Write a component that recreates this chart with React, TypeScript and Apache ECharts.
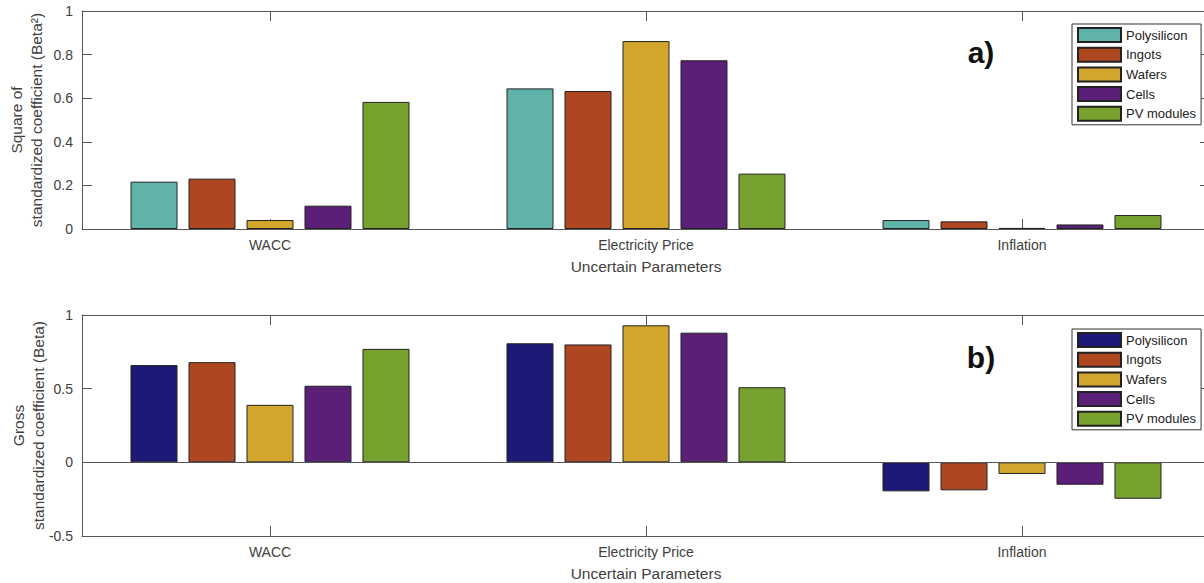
import React, { useEffect, useRef } from 'react';
import * as echarts from 'echarts';

const categories = ['WACC', 'Electricity Price', 'Inflation'];
const seriesNames = ['Polysilicon', 'Ingots', 'Wafers', 'Cells', 'PV modules'];

// a) Square of standardized coefficient (Beta^2)
const sqPolysilicon = [0.217, 0.645, 0.041];
const sqIngots = [0.231, 0.633, 0.035];
const sqWafers = [0.041, 0.862, 0.005];
const sqCells = [0.107, 0.774, 0.021];
const sqModules = [0.583, 0.254, 0.064];

// b) Gross standardized coefficient (Beta)
const grPolysilicon = [0.66, 0.808, -0.197];
const grIngots = [0.68, 0.8, -0.19];
const grWafers = [0.39, 0.93, -0.079];
const grCells = [0.52, 0.88, -0.152];
const grModules = [0.77, 0.51, -0.247];

const colorsA = ['#5fb3a9', '#ae4620', '#d3a72d', '#5b1f77', '#78a22f'];
const colorsB = ['#1d1a77', '#ae4620', '#d3a72d', '#5b1f77', '#78a22f'];

const FONT = '"Liberation Sans", Arial, Helvetica, sans-serif';
const AXIS = '#555555';
const TEXT = '#404040';

interface Cfg {
  data: number[][];
  colors: string[];
  min: number;
  max: number;
  interval: number;
  yName: string;
  yNameGap: number;
  gridTop: number;
  gridBottom: number;
  legendTop: number;
  tag: string;
  tagY: number;
  baseline: boolean;
}

function makeOption(c: Cfg): any {
  const tick = { show: true, inside: true, length: 10, lineStyle: { color: AXIS } };
  const line = { show: true, onZero: false, lineStyle: { color: AXIS, width: 1 } };
  return {
    animation: false,
    textStyle: { fontFamily: FONT },
    grid: {
      left: 82,
      right: -6,
      top: c.gridTop,
      bottom: c.gridBottom,
      containLabel: false,
      outerBoundsMode: 'none',
    },
    legend: {
      data: seriesNames,
      orient: 'vertical',
      left: 1072,
      top: c.legendTop,
      itemWidth: 43,
      itemHeight: 14,
      itemGap: 3.7,
      padding: [3, 5, 3, 5],
      borderColor: '#333',
      borderWidth: 1,
      backgroundColor: '#fff',
      icon: 'rect',
      textStyle: { fontSize: 13, color: '#222', fontFamily: FONT },
    },
    xAxis: [
      {
        type: 'category',
        data: categories,
        position: 'bottom',
        boundaryGap: true,
        axisLine: line,
        axisTick: { ...tick, alignWithLabel: true },
        axisLabel: { fontSize: 14, color: TEXT, margin: 9, fontFamily: FONT },
        name: 'Uncertain Parameters',
        nameLocation: 'middle',
        nameGap: 29,
        nameMoveOverlap: false,
        nameTextStyle: { fontSize: 15.5, color: TEXT, fontFamily: FONT },
        splitLine: { show: false },
      },
      {
        type: 'category',
        data: categories,
        position: 'top',
        boundaryGap: true,
        axisLine: line,
        axisTick: { ...tick, alignWithLabel: true },
        axisLabel: { show: false },
        splitLine: { show: false },
      },
    ],
    yAxis: [
      {
        type: 'value',
        min: c.min,
        max: c.max,
        interval: c.interval,
        position: 'left',
        axisLine: line,
        axisTick: tick,
        axisLabel: { fontSize: 14, color: TEXT, margin: 9, fontFamily: FONT },
        splitLine: { show: false },
        name: c.yName,
        nameLocation: 'middle',
        nameGap: c.yNameGap,
        nameMoveOverlap: false,
        nameTextStyle: { fontSize: 15.5, lineHeight: 20, color: TEXT, fontFamily: FONT, align: 'center' },
      },
      {
        type: 'value',
        min: c.min,
        max: c.max,
        interval: c.interval,
        position: 'right',
        axisLine: line,
        axisTick: tick,
        axisLabel: { show: false },
        splitLine: { show: false },
      },
    ],
    graphic: [
      {
        type: 'text',
        x: 981,
        y: c.tagY,
        style: {
          text: c.tag,
          fontSize: 30,
          fontWeight: 'bold',
          fontFamily: FONT,
          fill: '#111',
          textAlign: 'center',
          textVerticalAlign: 'middle',
        },
      },
    ],
    series: seriesNames.map((name, i) => ({
      name,
      type: 'bar',
      data: c.data[i],
      barWidth: 47,
      barGap: '23.4%',
      itemStyle: { color: c.colors[i], borderColor: '#222', borderWidth: 1 },
      ...(i === 0 && c.baseline
        ? {
            markLine: {
              silent: true,
              symbol: ['none', 'none'],
              label: { show: false },
              lineStyle: { color: AXIS, type: 'solid', width: 1 },
              data: [{ yAxis: 0 }],
            },
          }
        : {}),
    })),
  };
}

function Chart({ cfg, top, height }: { cfg: Cfg; top: number; height: number }) {
  const ref = useRef<HTMLDivElement>(null);
  useEffect(() => {
    if (!ref.current) return;
    const chart = echarts.init(ref.current, undefined, { renderer: 'svg' });
    chart.setOption(makeOption(cfg));
    return () => chart.dispose();
  }, []);
  return (
    <div
      ref={ref}
      style={{ position: 'absolute', left: 0, top, width: 1204, height }}
    />
  );
}

export default function App() {
  const cfgA: Cfg = {
    data: [sqPolysilicon, sqIngots, sqWafers, sqCells, sqModules],
    colors: colorsA,
    min: 0,
    max: 1,
    interval: 0.2,
    yName: 'Square of\nstandardized coefficient (Beta²)',
    yNameGap: 36,
    gridTop: 11,
    gridBottom: 292 - 229,
    legendTop: 24,
    tag: 'a)',
    tagY: 52,
    baseline: false,
  };
  const cfgB: Cfg = {
    data: [grPolysilicon, grIngots, grWafers, grCells, grModules],
    colors: colorsB,
    min: -0.5,
    max: 1,
    interval: 0.5,
    yName: 'Gross\nstandardized coefficient (Beta)',
    yNameGap: 34,
    gridTop: 315 - 292,
    gridBottom: 291 - (536 - 292),
    legendTop: 329 - 292,
    tag: 'b)',
    tagY: 357 - 292,
    baseline: true,
  };
  return (
    <div style={{ position: 'fixed', left: 0, top: 0, width: 1204, height: 583, background: '#fff', overflow: 'hidden' }}>
      <Chart cfg={cfgA} top={0} height={292} />
      <Chart cfg={cfgB} top={292} height={291} />
    </div>
  );
}
